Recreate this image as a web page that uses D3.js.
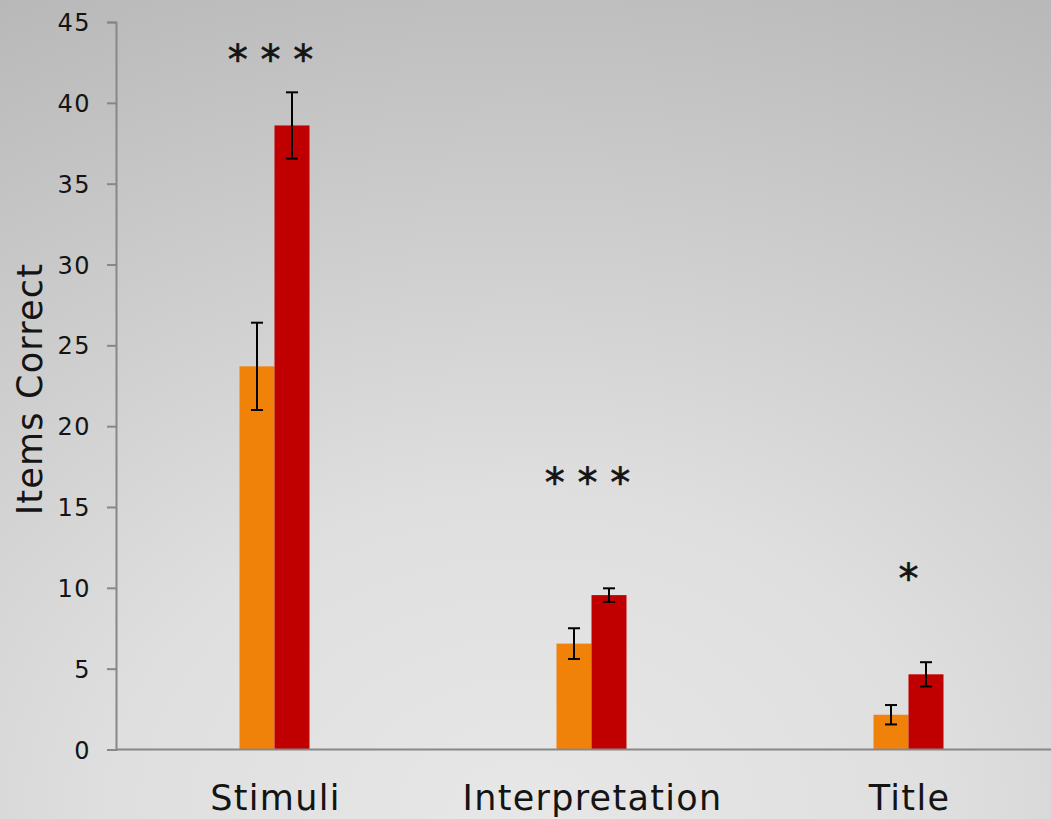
<!DOCTYPE html>
<html><head><meta charset="utf-8">
<script src="https://cdn.jsdelivr.net/npm/d3@7"></script>
<style>html,body{margin:0;padding:0;overflow:hidden;}svg{display:block;}</style>
</head><body>
<svg id="chart" width="1051" height="819"></svg>
<script>
const categories = ["Stimuli", "Interpretation", "Title"];
const seriesNames = ["Group A", "Group B"];
const valuesA = [23.7, 6.55, 2.15];
const valuesB = [38.6, 9.55, 4.65];
const errorsA = [2.7, 0.95, 0.6];
const errorsB = [2.05, 0.42, 0.75];
const sigLabels = ["* * *", "* * *", "*"];
const sigLevel = [42.9, 16.7, 10.8];
const yTicks = [0, 5, 10, 15, 20, 25, 30, 35, 40, 45];
const colors = ["#F0820A", "#C00000"];

(function(){
const W = 1051, H = 819;
const svg = d3.select("#chart");
const defs = svg.append("defs");
const grad = defs.append("radialGradient").attr("id","bg")
  .attr("cx","0.5").attr("cy","1").attr("r","1.12").attr("fx","0.5").attr("fy","1");
grad.append("stop").attr("offset","0").attr("stop-color","#e7e7e7");
grad.append("stop").attr("offset","0.35").attr("stop-color","#dfdfdf");
grad.append("stop").attr("offset","1").attr("stop-color","#b8b8b8");
svg.append("rect").attr("width",W).attr("height",H).attr("fill","url(#bg)");

const mLeft = 116, mBottom = 749.5, mTop = 22;
const y = d3.scaleLinear().domain([0,45]).range([mBottom, mTop]);
const x = d3.scaleBand().domain(categories).range([mLeft, mLeft + 3*317]).padding(0);
const xs = d3.scaleBand().domain(seriesNames).range([0, 70]);
const offset = (x.bandwidth() - 70) / 2;

const font = "'DejaVu Sans', Verdana, sans-serif";
const txt = "#141414";

const yAxis = svg.append("g").attr("transform",`translate(${mLeft},0)`)
  .call(d3.axisLeft(y).tickValues(yTicks).tickSize(9).tickPadding(16));
yAxis.select(".domain").attr("stroke","#878787").attr("stroke-width",2);
yAxis.selectAll(".tick line").attr("stroke","#878787").attr("stroke-width",2);
yAxis.selectAll(".tick text").attr("font-family",font).attr("font-size",24)
  .attr("letter-spacing",1.5)
  .attr("fill",txt).attr("dy","0.36em");

const data = categories.map((c,i)=>({cat:c, vals:[
  {s:seriesNames[0], v:valuesA[i], e:errorsA[i], col:colors[0]},
  {s:seriesNames[1], v:valuesB[i], e:errorsB[i], col:colors[1]}]}));

const g = svg.append("g");
const groups = g.selectAll("g.cat").data(data).join("g")
  .attr("transform", d=>`translate(${x(d.cat)+offset},0)`);
groups.selectAll("rect").data(d=>d.vals).join("rect")
  .attr("x", d=>xs(d.s)).attr("width", xs.bandwidth())
  .attr("y", d=>y(d.v)).attr("height", d=>y(0)-y(d.v))
  .attr("fill", d=>d.col);

const eb = groups.selectAll("g.err").data(d=>d.vals).join("g")
  .attr("stroke","#000").attr("stroke-width",2);
const cx = d=>xs(d.s)+xs.bandwidth()/2;
eb.append("line").attr("x1",cx).attr("x2",cx)
  .attr("y1",d=>y(d.v+d.e)).attr("y2",d=>y(d.v-d.e));
eb.append("line").attr("x1",d=>cx(d)-6).attr("x2",d=>cx(d)+6)
  .attr("y1",d=>y(d.v+d.e)).attr("y2",d=>y(d.v+d.e));
eb.append("line").attr("x1",d=>cx(d)-6).attr("x2",d=>cx(d)+6)
  .attr("y1",d=>y(d.v-d.e)).attr("y2",d=>y(d.v-d.e));

svg.append("line").attr("x1",mLeft).attr("x2",W).attr("y1",y(0)).attr("y2",y(0))
  .attr("stroke","#878787").attr("stroke-width",2);

svg.selectAll("text.cat").data(categories).join("text").attr("class","cat")
  .attr("x", d=>x(d)+x.bandwidth()/2 + 1).attr("y", 810)
  .attr("text-anchor","middle").attr("font-family",font).attr("font-size",35)
  .attr("letter-spacing",1.3)
  .attr("fill",txt).text(d=>d);

svg.selectAll("text.sig").data(categories).join("text").attr("class","sig")
  .attr("x", (d,i)=>x(d)+x.bandwidth()/2 - (sigLabels[i].length > 1 ? 4 : 0))
  .attr("y",(d,i)=>y(sigLevel[i]))
  .attr("dy","0.44em")
  .attr("text-anchor","middle").attr("font-family",font).attr("font-size",40)
  .attr("stroke",txt).attr("stroke-width",0.6)
  .attr("fill",txt).text((d,i)=>sigLabels[i]);

svg.append("text").attr("transform","translate(42,389) rotate(-90)")
  .attr("text-anchor","middle").attr("font-family",font).attr("font-size",35)
  .attr("letter-spacing",1.2)
  .attr("fill",txt).text("Items Correct");
})();
</script>
</body></html>
